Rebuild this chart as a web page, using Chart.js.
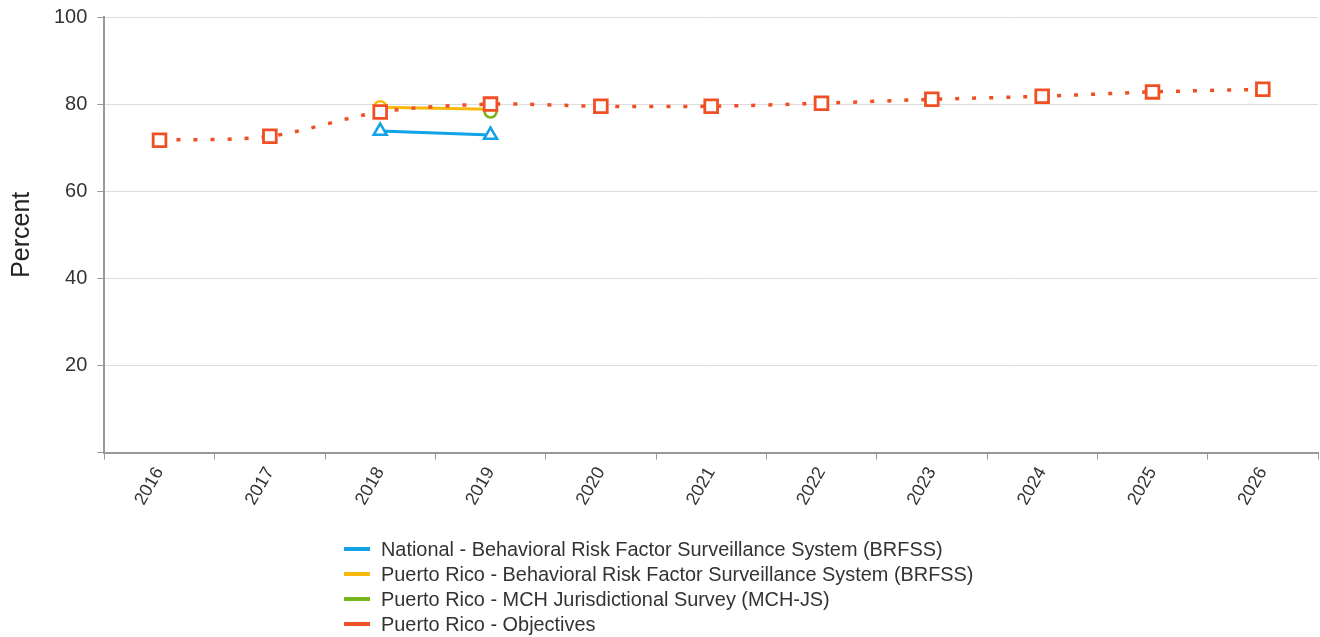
<!DOCTYPE html>
<html>
<head>
<meta charset="utf-8">
<script src="https://cdn.jsdelivr.net/npm/chart.js@4.4.1/dist/chart.umd.min.js"></script>
<style>
  body { margin: 0; background: #fff; font-family: "Liberation Sans", Arial, sans-serif; }
  #wrap { position: relative; width: 1320px; height: 637px; }
  #legend { position: absolute; left: 344px; top: 537px; color: #333; font-size: 19.9px; }
  .item { height: 25px; line-height: 25px; white-space: nowrap; }
  .swatch { display: inline-block; width: 26px; height: 4px; vertical-align: middle; margin-right: 11px; position: relative; top: -2px; }
</style>
</head>
<body>
<div id="wrap">
  <canvas id="myChart" width="1320" height="637"></canvas>
  <div id="legend"></div>
</div>
<script>
// years on the x axis
const years = ['2016', '2017', '2018', '2019', '2020', '2021', '2022', '2023', '2024', '2025', '2026'];

// series values (null = no data)
const nationalBrfss = [null, null, 73.8, 72.9, null, null, null, null, null, null, null];
const prBrfss = [null, null, 79.3, 78.8, null, null, null, null, null, null, null];
const prMchJs = [null, null, null, 78.3, null, null, null, null, null, null, null];
const prObjectives = [71.7, 72.6, 78.2, 80.0, 79.5, 79.5, 80.2, 81.1, 81.8, 82.8, 83.4];

const seriesNames = [
    'National - Behavioral Risk Factor Surveillance System (BRFSS)',
    'Puerto Rico - Behavioral Risk Factor Surveillance System (BRFSS)',
    'Puerto Rico - MCH Jurisdictional Survey (MCH-JS)',
    'Puerto Rico - Objectives'
];
const seriesColors = ['#12a3e6', '#f9b90c', '#78b51a', '#f04e23'];

const yTicks = [0, 20, 40, 60, 80, 100];

const fontFamily = '"Liberation Sans", Arial, sans-serif';

const datasets = [
    {
        label: seriesNames[3],
        data: prObjectives,
        borderColor: seriesColors[3],
        backgroundColor: '#fff',
        borderWidth: 3.5,
        borderDash: [4, 13],
        tension: 0.3,
        pointStyle: 'rect',
        pointRadius: 9,
        pointBorderWidth: 2.8,
        order: 0
    },
    {
        label: seriesNames[2],
        data: prMchJs,
        borderColor: seriesColors[2],
        backgroundColor: '#fff',
        borderWidth: 3,
        pointStyle: 'circle',
        pointRadius: 6,
        pointBorderWidth: 2.5,
        order: 1
    },
    {
        label: seriesNames[1],
        data: prBrfss,
        borderColor: seriesColors[1],
        backgroundColor: '#fff',
        borderWidth: 3,
        pointStyle: 'circle',
        pointRadius: 6,
        pointBorderWidth: 2.5,
        order: 2
    },
    {
        label: seriesNames[0],
        data: nationalBrfss,
        borderColor: seriesColors[0],
        backgroundColor: '#fff',
        borderWidth: 3,
        pointStyle: 'triangle',
        pointRadius: 7.5,
        pointBorderWidth: 2.5,
        order: 3
    }
];

const config = {
    type: 'line',
    data: { labels: years, datasets: datasets },
    options: {
        responsive: false,
        animation: false,
        layout: { autoPadding: false, padding: { top: 17, right: 2, bottom: 124, left: 7 } },
        plugins: {
            legend: { display: false },
            tooltip: { enabled: false }
        },
        scales: {
            x: {
                offset: true,
                grid: { display: true, offset: true, drawOnChartArea: false, tickLength: 7, tickColor: '#999' },
                border: { color: '#999', width: 2 },
                ticks: {
                    color: '#333',
                    font: { family: fontFamily, size: 18 },
                    minRotation: 60,
                    maxRotation: 60,
                    padding: 4
                }
            },
            y: {
                min: 0,
                max: 100,
                afterBuildTicks: (axis) => { axis.ticks = yTicks.map(v => ({ value: v })); },
                grid: { color: '#ddd', tickColor: '#999', tickLength: 7 },
                border: { color: '#999', width: 2 },
                ticks: {
                    color: '#333',
                    font: { family: fontFamily, size: 20, lineHeight: 0.7 },
                    padding: 10,
                    callback: (v) => v === 0 ? '' : v
                },
                title: {
                    display: true,
                    text: 'Percent',
                    color: '#222',
                    font: { family: fontFamily, size: 25 },
                    padding: { top: 0, bottom: 7 }
                }
            }
        }
    }
};

new Chart(document.getElementById('myChart'), config);

// legend in a single left-aligned column, like the original
let legend = document.getElementById('legend');
for (let i = 0; i < seriesNames.length; i++) {
    let item = document.createElement('div');
    item.className = 'item';
    let sw = document.createElement('span');
    sw.className = 'swatch';
    sw.style.background = seriesColors[i];
    item.appendChild(sw);
    item.appendChild(document.createTextNode(seriesNames[i]));
    legend.appendChild(item);
}
</script>
</body>
</html>
